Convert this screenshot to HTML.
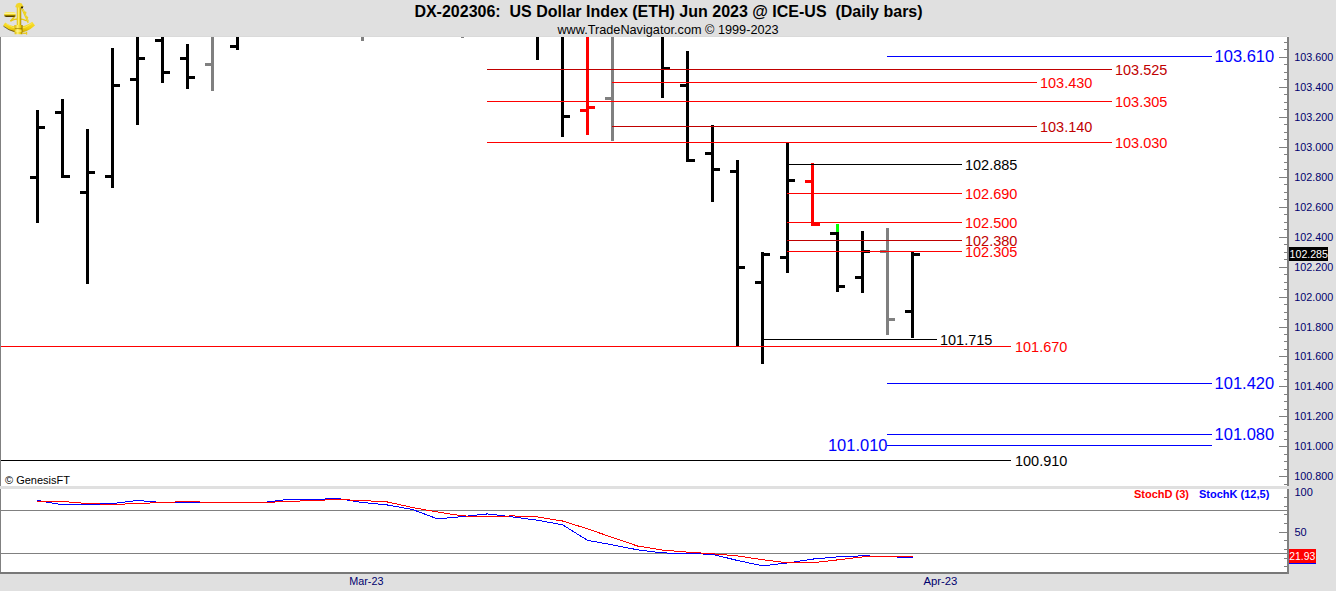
<!DOCTYPE html>
<html><head><meta charset="utf-8"><title>DX-202306 US Dollar Index</title>
<style>
html,body{margin:0;padding:0;background:#e0e0e0;overflow:hidden;}
svg{display:block;font-family:"Liberation Sans",Arial,sans-serif;}
</style></head><body>
<svg width="1336" height="591" viewBox="0 0 1336 591" shape-rendering="crispEdges">
<rect x="0" y="0" width="1336" height="591" fill="#e0e0e0"/>
<rect x="0" y="36" width="1287" height="1" fill="#dadada"/>
<rect x="1287" y="36" width="2" height="1" fill="#e8e8e8"/>
<rect x="0" y="37" width="1287" height="449" fill="#ffffff"/>
<rect x="0" y="37" width="1" height="449" fill="#808080"/>
<rect x="0" y="489" width="1287" height="83" fill="#ffffff"/>
<rect x="0" y="489" width="1" height="83" fill="#808080"/>
<rect x="0" y="572" width="1289" height="2" fill="#787878"/>
<rect x="1287" y="37" width="2" height="449" fill="#808080"/>
<rect x="1287" y="489" width="2" height="85" fill="#808080"/>
<rect x="1284" y="42" width="3" height="1" fill="#808080"/>
<rect x="1284" y="49" width="3" height="1" fill="#808080"/>
<rect x="1279" y="57" width="8" height="1" fill="#808080"/>
<rect x="1284" y="64" width="3" height="1" fill="#808080"/>
<rect x="1284" y="72" width="3" height="1" fill="#808080"/>
<rect x="1284" y="79" width="3" height="1" fill="#808080"/>
<rect x="1279" y="87" width="8" height="1" fill="#808080"/>
<rect x="1284" y="94" width="3" height="1" fill="#808080"/>
<rect x="1284" y="102" width="3" height="1" fill="#808080"/>
<rect x="1284" y="109" width="3" height="1" fill="#808080"/>
<rect x="1279" y="117" width="8" height="1" fill="#808080"/>
<rect x="1284" y="124" width="3" height="1" fill="#808080"/>
<rect x="1284" y="132" width="3" height="1" fill="#808080"/>
<rect x="1284" y="139" width="3" height="1" fill="#808080"/>
<rect x="1279" y="147" width="8" height="1" fill="#808080"/>
<rect x="1284" y="154" width="3" height="1" fill="#808080"/>
<rect x="1284" y="162" width="3" height="1" fill="#808080"/>
<rect x="1284" y="169" width="3" height="1" fill="#808080"/>
<rect x="1279" y="177" width="8" height="1" fill="#808080"/>
<rect x="1284" y="184" width="3" height="1" fill="#808080"/>
<rect x="1284" y="192" width="3" height="1" fill="#808080"/>
<rect x="1284" y="199" width="3" height="1" fill="#808080"/>
<rect x="1279" y="207" width="8" height="1" fill="#808080"/>
<rect x="1284" y="214" width="3" height="1" fill="#808080"/>
<rect x="1284" y="222" width="3" height="1" fill="#808080"/>
<rect x="1284" y="229" width="3" height="1" fill="#808080"/>
<rect x="1279" y="237" width="8" height="1" fill="#808080"/>
<rect x="1284" y="244" width="3" height="1" fill="#808080"/>
<rect x="1284" y="252" width="3" height="1" fill="#808080"/>
<rect x="1284" y="259" width="3" height="1" fill="#808080"/>
<rect x="1279" y="267" width="8" height="1" fill="#808080"/>
<rect x="1284" y="274" width="3" height="1" fill="#808080"/>
<rect x="1284" y="282" width="3" height="1" fill="#808080"/>
<rect x="1284" y="289" width="3" height="1" fill="#808080"/>
<rect x="1279" y="297" width="8" height="1" fill="#808080"/>
<rect x="1284" y="304" width="3" height="1" fill="#808080"/>
<rect x="1284" y="312" width="3" height="1" fill="#808080"/>
<rect x="1284" y="319" width="3" height="1" fill="#808080"/>
<rect x="1279" y="327" width="8" height="1" fill="#808080"/>
<rect x="1284" y="334" width="3" height="1" fill="#808080"/>
<rect x="1284" y="341" width="3" height="1" fill="#808080"/>
<rect x="1284" y="349" width="3" height="1" fill="#808080"/>
<rect x="1279" y="356" width="8" height="1" fill="#808080"/>
<rect x="1284" y="364" width="3" height="1" fill="#808080"/>
<rect x="1284" y="371" width="3" height="1" fill="#808080"/>
<rect x="1284" y="379" width="3" height="1" fill="#808080"/>
<rect x="1279" y="386" width="8" height="1" fill="#808080"/>
<rect x="1284" y="394" width="3" height="1" fill="#808080"/>
<rect x="1284" y="401" width="3" height="1" fill="#808080"/>
<rect x="1284" y="409" width="3" height="1" fill="#808080"/>
<rect x="1279" y="416" width="8" height="1" fill="#808080"/>
<rect x="1284" y="424" width="3" height="1" fill="#808080"/>
<rect x="1284" y="431" width="3" height="1" fill="#808080"/>
<rect x="1284" y="439" width="3" height="1" fill="#808080"/>
<rect x="1279" y="446" width="8" height="1" fill="#808080"/>
<rect x="1284" y="454" width="3" height="1" fill="#808080"/>
<rect x="1284" y="461" width="3" height="1" fill="#808080"/>
<rect x="1284" y="469" width="3" height="1" fill="#808080"/>
<rect x="1279" y="476" width="8" height="1" fill="#808080"/>
<rect x="1284" y="484" width="3" height="1" fill="#808080"/>
<text x="1294.2" y="61" font-size="10.8" fill="#00006e" font-weight="normal" text-anchor="start">103.600</text>
<text x="1294.2" y="91" font-size="10.8" fill="#00006e" font-weight="normal" text-anchor="start">103.400</text>
<text x="1294.2" y="121" font-size="10.8" fill="#00006e" font-weight="normal" text-anchor="start">103.200</text>
<text x="1294.2" y="151" font-size="10.8" fill="#00006e" font-weight="normal" text-anchor="start">103.000</text>
<text x="1294.2" y="181" font-size="10.8" fill="#00006e" font-weight="normal" text-anchor="start">102.800</text>
<text x="1294.2" y="211" font-size="10.8" fill="#00006e" font-weight="normal" text-anchor="start">102.600</text>
<text x="1294.2" y="241" font-size="10.8" fill="#00006e" font-weight="normal" text-anchor="start">102.400</text>
<text x="1294.2" y="271" font-size="10.8" fill="#00006e" font-weight="normal" text-anchor="start">102.200</text>
<text x="1294.2" y="301" font-size="10.8" fill="#00006e" font-weight="normal" text-anchor="start">102.000</text>
<text x="1294.2" y="331" font-size="10.8" fill="#00006e" font-weight="normal" text-anchor="start">101.800</text>
<text x="1294.2" y="360" font-size="10.8" fill="#00006e" font-weight="normal" text-anchor="start">101.600</text>
<text x="1294.2" y="390" font-size="10.8" fill="#00006e" font-weight="normal" text-anchor="start">101.400</text>
<text x="1294.2" y="420" font-size="10.8" fill="#00006e" font-weight="normal" text-anchor="start">101.200</text>
<text x="1294.2" y="450" font-size="10.8" fill="#00006e" font-weight="normal" text-anchor="start">101.000</text>
<text x="1294.2" y="480" font-size="10.8" fill="#00006e" font-weight="normal" text-anchor="start">100.800</text>
<rect x="1289" y="247" width="39" height="14" fill="#000000"/>
<text x="1289.6" y="258" font-size="10.6" fill="#ffffff" font-weight="normal" text-anchor="start">102.285</text>
<rect x="1284" y="497" width="3" height="1" fill="#808080"/>
<rect x="1284" y="506" width="3" height="1" fill="#808080"/>
<rect x="1284" y="514" width="3" height="1" fill="#808080"/>
<rect x="1284" y="523" width="3" height="1" fill="#808080"/>
<rect x="1284" y="540" width="3" height="1" fill="#808080"/>
<rect x="1284" y="549" width="3" height="1" fill="#808080"/>
<rect x="1284" y="558" width="3" height="1" fill="#808080"/>
<rect x="1284" y="566" width="3" height="1" fill="#808080"/>
<rect x="1279" y="532" width="8" height="1" fill="#808080"/>
<text x="1294.5" y="496" font-size="11" fill="#00006e" font-weight="normal" text-anchor="start">100</text>
<text x="1294.5" y="536" font-size="11" fill="#00006e" font-weight="normal" text-anchor="start">50</text>
<rect x="1289" y="549" width="27" height="14" fill="#ff0000"/>
<rect x="1289" y="563" width="27" height="1" fill="#0000ff"/>
<text x="1289.3" y="560" font-size="10.4" fill="#ffffff" font-weight="normal" text-anchor="start">21.93</text>
<rect x="1" y="510" width="1286" height="1" fill="#808080"/>
<rect x="1" y="553" width="1286" height="1" fill="#808080"/>
<text x="349.2" y="585" font-size="10.8" fill="#00006e" font-weight="normal" text-anchor="start">Mar-23</text>
<text x="923.5" y="585" font-size="11.3" fill="#00006e" font-weight="normal" text-anchor="start">Apr-23</text>
<text x="668.5" y="17" font-size="16" fill="#000000" font-weight="bold" text-anchor="middle">DX-202306:&#160; US Dollar Index (ETH) Jun 2023 @ ICE-US&#160; (Daily bars)</text>
<text transform="translate(668,33.8) scale(1,1.06)" font-size="12.7" fill="#000000" font-weight="normal" text-anchor="middle">www.TradeNavigator.com &#169; 1999-2023</text>
<rect x="36" y="110" width="3" height="113" fill="#000000"/>
<rect x="30" y="176" width="6" height="3" fill="#000000"/>
<rect x="39" y="126" width="6" height="3" fill="#000000"/>
<rect x="61" y="99" width="3" height="79" fill="#000000"/>
<rect x="55" y="111" width="6" height="3" fill="#000000"/>
<rect x="64" y="175" width="6" height="3" fill="#000000"/>
<rect x="86" y="129" width="3" height="155" fill="#000000"/>
<rect x="80" y="191" width="6" height="3" fill="#000000"/>
<rect x="89" y="171" width="6" height="3" fill="#000000"/>
<rect x="111" y="48" width="3" height="140" fill="#000000"/>
<rect x="105" y="175" width="6" height="3" fill="#000000"/>
<rect x="114" y="84" width="6" height="3" fill="#000000"/>
<rect x="136" y="37" width="3" height="88" fill="#000000"/>
<rect x="130" y="78" width="6" height="3" fill="#000000"/>
<rect x="139" y="57" width="6" height="3" fill="#000000"/>
<rect x="161" y="37" width="3" height="46" fill="#000000"/>
<rect x="155" y="39" width="6" height="3" fill="#000000"/>
<rect x="164" y="71" width="6" height="3" fill="#000000"/>
<rect x="186" y="44" width="3" height="45" fill="#000000"/>
<rect x="180" y="57" width="6" height="3" fill="#000000"/>
<rect x="189" y="76" width="6" height="3" fill="#000000"/>
<rect x="211" y="37" width="3" height="54" fill="#808080"/>
<rect x="205" y="63" width="6" height="3" fill="#808080"/>
<rect x="236" y="37" width="3" height="13" fill="#000000"/>
<rect x="230" y="45" width="6" height="3" fill="#000000"/>
<rect x="361" y="37" width="3" height="4" fill="#808080"/>
<rect x="461" y="37" width="3" height="1" fill="#808080"/>
<rect x="536" y="37" width="3" height="23" fill="#000000"/>
<rect x="561" y="37" width="3" height="100" fill="#000000"/>
<rect x="564" y="115" width="6" height="3" fill="#000000"/>
<rect x="586" y="37" width="3" height="98" fill="#ff0000"/>
<rect x="580" y="109" width="6" height="3" fill="#ff0000"/>
<rect x="589" y="106" width="6" height="3" fill="#ff0000"/>
<rect x="611" y="37" width="3" height="104" fill="#808080"/>
<rect x="605" y="97" width="6" height="3" fill="#808080"/>
<rect x="661" y="37" width="3" height="61" fill="#000000"/>
<rect x="664" y="67" width="6" height="3" fill="#000000"/>
<rect x="686" y="51" width="3" height="111" fill="#000000"/>
<rect x="680" y="84" width="6" height="3" fill="#000000"/>
<rect x="689" y="159" width="6" height="3" fill="#000000"/>
<rect x="711" y="125" width="3" height="77" fill="#000000"/>
<rect x="705" y="152" width="6" height="3" fill="#000000"/>
<rect x="714" y="168" width="6" height="3" fill="#000000"/>
<rect x="736" y="160" width="3" height="186" fill="#000000"/>
<rect x="730" y="170" width="6" height="3" fill="#000000"/>
<rect x="739" y="266" width="6" height="3" fill="#000000"/>
<rect x="761" y="252" width="3" height="112" fill="#000000"/>
<rect x="755" y="281" width="6" height="3" fill="#000000"/>
<rect x="764" y="253" width="6" height="3" fill="#000000"/>
<rect x="786" y="143" width="3" height="130" fill="#000000"/>
<rect x="780" y="256" width="6" height="3" fill="#000000"/>
<rect x="789" y="179" width="6" height="3" fill="#000000"/>
<rect x="811" y="163" width="3" height="63" fill="#ff0000"/>
<rect x="805" y="180" width="6" height="3" fill="#ff0000"/>
<rect x="814" y="223" width="6" height="3" fill="#ff0000"/>
<rect x="836" y="224" width="3" height="68" fill="#000000"/>
<rect x="830" y="232" width="6" height="3" fill="#000000"/>
<rect x="839" y="285" width="6" height="3" fill="#000000"/>
<rect x="861" y="231" width="3" height="62" fill="#000000"/>
<rect x="855" y="276" width="6" height="3" fill="#000000"/>
<rect x="864" y="250" width="6" height="3" fill="#000000"/>
<rect x="886" y="228" width="3" height="107" fill="#808080"/>
<rect x="880" y="250" width="6" height="3" fill="#808080"/>
<rect x="889" y="318" width="6" height="3" fill="#808080"/>
<rect x="911" y="252" width="3" height="86" fill="#000000"/>
<rect x="905" y="310" width="6" height="3" fill="#000000"/>
<rect x="914" y="253" width="6" height="3" fill="#000000"/>
<rect x="836" y="224" width="3" height="8" fill="#00ff00"/>
<rect x="887" y="56" width="325" height="1" fill="#0000ff"/>
<text transform="translate(1214.6,62) scale(1,1.05)" font-size="16.5" fill="#0000ff" font-weight="normal" text-anchor="start">103.610</text>
<rect x="487" y="69" width="625" height="1" fill="#c00000"/>
<text transform="translate(1115,75) scale(1,1.04)" font-size="14.5" fill="#c00000" font-weight="normal" text-anchor="start">103.525</text>
<rect x="612" y="82" width="425" height="1" fill="#ff0000"/>
<text transform="translate(1040,88) scale(1,1.04)" font-size="14.5" fill="#ff0000" font-weight="normal" text-anchor="start">103.430</text>
<rect x="487" y="101" width="625" height="1" fill="#ff0000"/>
<text transform="translate(1115,107) scale(1,1.04)" font-size="14.5" fill="#ff0000" font-weight="normal" text-anchor="start">103.305</text>
<rect x="612" y="126" width="425" height="1" fill="#c00000"/>
<text transform="translate(1040,132) scale(1,1.04)" font-size="14.5" fill="#c00000" font-weight="normal" text-anchor="start">103.140</text>
<rect x="487" y="142" width="625" height="1" fill="#ff0000"/>
<text transform="translate(1115,148) scale(1,1.04)" font-size="14.5" fill="#ff0000" font-weight="normal" text-anchor="start">103.030</text>
<rect x="787" y="164" width="175" height="1" fill="#000000"/>
<text transform="translate(965,170) scale(1,1.04)" font-size="14.5" fill="#000000" font-weight="normal" text-anchor="start">102.885</text>
<rect x="787" y="193" width="175" height="1" fill="#ff0000"/>
<text transform="translate(965,199) scale(1,1.04)" font-size="14.5" fill="#ff0000" font-weight="normal" text-anchor="start">102.690</text>
<rect x="787" y="222" width="175" height="1" fill="#ff0000"/>
<text transform="translate(965,228) scale(1,1.04)" font-size="14.5" fill="#ff0000" font-weight="normal" text-anchor="start">102.500</text>
<rect x="787" y="240" width="175" height="1" fill="#c00000"/>
<text transform="translate(965,246) scale(1,1.04)" font-size="14.5" fill="#c00000" font-weight="normal" text-anchor="start">102.380</text>
<rect x="787" y="251" width="175" height="1" fill="#ff0000"/>
<text transform="translate(965,257) scale(1,1.04)" font-size="14.5" fill="#ff0000" font-weight="normal" text-anchor="start">102.305</text>
<rect x="762" y="339" width="175" height="1" fill="#000000"/>
<text transform="translate(940,345) scale(1,1.04)" font-size="14.5" fill="#000000" font-weight="normal" text-anchor="start">101.715</text>
<rect x="1" y="346" width="1010" height="1" fill="#ff0000"/>
<text transform="translate(1015,352) scale(1,1.04)" font-size="14.5" fill="#ff0000" font-weight="normal" text-anchor="start">101.670</text>
<rect x="887" y="383" width="325" height="1" fill="#0000ff"/>
<text transform="translate(1214.6,389) scale(1,1.05)" font-size="16.5" fill="#0000ff" font-weight="normal" text-anchor="start">101.420</text>
<rect x="887" y="434" width="325" height="1" fill="#0000ff"/>
<text transform="translate(1214.6,440) scale(1,1.05)" font-size="16.5" fill="#0000ff" font-weight="normal" text-anchor="start">101.080</text>
<rect x="887" y="445" width="325" height="1" fill="#0000ff"/>
<rect x="1" y="460" width="1010" height="1" fill="#000000"/>
<text transform="translate(1015,466) scale(1,1.04)" font-size="14.5" fill="#000000" font-weight="normal" text-anchor="start">100.910</text>
<text transform="translate(887.5,451) scale(1,1.05)" font-size="16.5" fill="#0000ff" font-weight="normal" text-anchor="end">101.010</text>
<text x="5" y="484" font-size="11" fill="#000000" font-weight="normal" text-anchor="start">&#169; GenesisFT</text>
<text x="1134" y="498" font-size="11" fill="#ff0000" font-weight="bold" text-anchor="start">StochD (3)</text>
<text x="1199" y="498" font-size="11" fill="#0000ff" font-weight="bold" text-anchor="start">StochK (12,5)</text>
<polyline points="37.5,500.5 62.5,504.7 87.5,504.5 112.5,503.5 137.5,500.5 162.5,502.5 187.5,502.5 212.5,502.5 237.5,502.5 262.5,502.5 287.5,499.5 312.5,499.5 337.5,498.5 362.5,502.5 387.5,505.0 412.5,509.5 437.5,518.9 462.5,516.6 487.5,513.9 512.5,516.9 537.5,520.2 562.5,524.8 587.5,540.3 612.5,544.9 637.5,549.8 662.5,552.9 687.5,553.5 712.5,554.3 737.5,560.5 762.5,565.8 787.5,563.0 812.5,559.1 837.5,556.9 862.5,555.8 887.5,556.5 912.5,557.9" fill="none" stroke="#0000ff" stroke-width="1" stroke-linecap="square" shape-rendering="crispEdges"/>
<polyline points="37.5,501.5 62.5,501.5 87.5,503.5 112.5,504.5 137.5,503.5 162.5,502.5 187.5,501.5 212.5,502.5 237.5,502.5 262.5,502.5 287.5,501.5 312.5,500.5 337.5,499.5 362.5,500.5 387.5,502.0 412.5,507.5 437.5,512.0 462.5,515.9 487.5,516.6 512.5,515.9 537.5,516.9 562.5,521.0 587.5,528.8 612.5,537.5 637.5,546.0 662.5,550.1 687.5,552.1 712.5,553.8 737.5,555.9 762.5,559.7 787.5,562.8 812.5,562.8 837.5,559.9 862.5,556.9 887.5,556.9 912.5,557.0" fill="none" stroke="#ff0000" stroke-width="1" stroke-linecap="square" shape-rendering="crispEdges"/>

<g shape-rendering="geometricPrecision">
 <defs>
  <linearGradient id="gv" x1="0" y1="0" x2="0" y2="1">
   <stop offset="0" stop-color="#f6e040"/><stop offset="0.3" stop-color="#fff7a0"/><stop offset="0.6" stop-color="#e8c800"/><stop offset="0.85" stop-color="#3a2a00"/><stop offset="1" stop-color="#6a5400"/>
  </linearGradient>
  <linearGradient id="gh" x1="0" y1="0" x2="1" y2="0">
   <stop offset="0" stop-color="#d8b400"/><stop offset="0.4" stop-color="#fff070"/><stop offset="0.75" stop-color="#e8c800"/><stop offset="1" stop-color="#8a6c00"/>
  </linearGradient>
  <linearGradient id="ga" x1="0" y1="0" x2="0" y2="1">
   <stop offset="0" stop-color="#fbe23a"/><stop offset="0.6" stop-color="#f0d010"/><stop offset="1" stop-color="#c9a400"/>
  </linearGradient>
 </defs>
 <path d="M3.2,25.6 Q19,39.6 35,25.4 L32.2,21.8 Q19,31.6 5.2,22.6 Z" fill="url(#ga)"/>
 <path d="M3.4,26.2 Q9,30.6 14.5,31.6" fill="none" stroke="#2a1e00" stroke-width="0.8" opacity="0.75"/>
 <path d="M6.4,24 Q19,33 31.6,23.6" fill="none" stroke="#fff590" stroke-width="0.7" opacity="0.7"/>
 <path d="M10.4,20.8 Q19,16.8 26.8,20.8" fill="none" stroke="#e8c810" stroke-width="1.3"/>
 <path d="M15.2,15.8 L10.5,21.2" fill="none" stroke="#e8c810" stroke-width="1.5"/>
 <path d="M21.6,8.2 L28.2,23" fill="none" stroke="#ecd018" stroke-width="1.1"/>
 <path d="M23.2,9 L28.6,21.5" fill="none" stroke="#ecd018" stroke-width="0.9"/>
 <circle cx="25.2" cy="12.8" r="1.3" fill="#f0d420"/>
 <circle cx="27.2" cy="17.6" r="1.1" fill="#f0d420"/>
 <rect x="4.1" y="11.9" width="11.6" height="5" rx="2.2" fill="url(#gv)"/>
 <rect x="16.8" y="6.5" width="4.4" height="20" fill="url(#gh)"/>
 <path d="M15.3,6.6 L16.6,3.8 L19.2,2.7 L21.8,3.6 L23.4,6.6 L22.8,7.4 L15.8,7.6 Z" fill="#f2d628"/>
 <path d="M21.2,6.4 L23.4,6.6 L22.6,8.6 L21,8.2 Z" fill="#2a1e00"/>
 <path d="M14.4,25 L22.6,25 L22.4,34.2 L14.7,34.2 Z" fill="url(#gh)"/>
 <rect x="15" y="28" width="7" height="0.8" fill="#8a6c00" opacity="0.7"/>
 <rect x="15.4" y="30.4" width="6.2" height="1.2" fill="#fff6a0" opacity="0.85"/>
 <rect x="22.5" y="32.6" width="3.8" height="1.3" fill="#e8c818"/>
 <rect x="26" y="31.8" width="1.2" height="2.8" fill="#e8c818"/>
</g>
</svg>
</body></html>
